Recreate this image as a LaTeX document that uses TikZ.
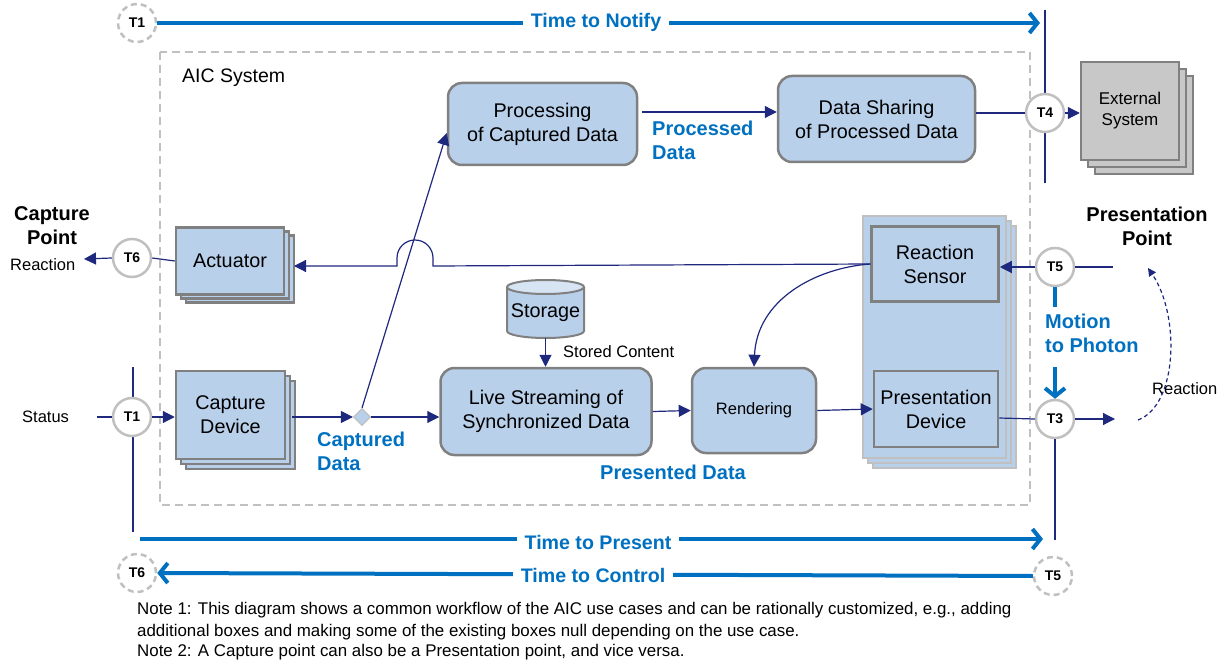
\documentclass[tikz,border=0pt]{standalone}
\usepackage{fontspec}
\setmainfont{Liberation Sans}
\usetikzlibrary{arrows.meta,shadows,shapes.geometric,calc}
\definecolor{boxblue}{RGB}{185,208,235}
\definecolor{boxgray}{RGB}{128,128,128}
\definecolor{lgray}{RGB}{192,192,192}
\definecolor{navy}{RGB}{30,40,125}
\definecolor{tblue}{RGB}{0,112,192}
\definecolor{extgray}{RGB}{200,200,200}
\definecolor{toptop}{RGB}{215,228,243}
\newcommand\fsz[2]{\fontsize{#1}{#2}\selectfont}
\begin{document}
\begin{tikzpicture}[x=1pt,y=-1pt,
 every node/.style={inner sep=0pt},
 rbox/.style={draw=boxgray, line width=2.5pt, fill=boxblue, rounded corners=14pt, align=center, font=\fsz{19.8}{24}},
 sbox/.style={draw=boxgray, line width=2.5pt, fill=boxblue, align=center, font=\fsz{19.8}{24}},
 tc/.style={circle, draw=lgray, line width=2.5pt, fill=white, minimum size=38pt, font=\bfseries\fsz{14}{14}},
 tcd/.style={tc, dash pattern=on 6pt off 4pt},
 ln/.style={draw=navy, line width=1.2pt},
 arr/.style={ln, -{Triangle[length=12pt,width=12pt]}},
 tarr/.style={draw=tblue, line width=4pt, -{Straight Barb[length=8pt,width=20pt]}},
 tline/.style={draw=tblue, line width=4pt},
 blab/.style={text=tblue, font=\bfseries\fsz{20}{24}, align=left},
 tlab/.style={text=tblue, font=\bfseries\fsz{19.6}{24}, fill=white, inner xsep=8pt, inner ysep=2pt},
 plain/.style={font=\fsz{16.5}{20}},
]
\useasboundingbox (0,0) rectangle (1225,660);

% AIC system frame
\draw[lgray, line width=2.5pt, dash pattern=on 8pt off 5pt] (160,52) rectangle (1030,505);
\node[anchor=west, font=\fsz{19.5}{24}] (aic) at (182,78) {AIC System};

% vertical guide lines
\draw[ln] (1045,10) -- (1045,183);
\draw[ln] (133,367) -- (133,532);

% top time line
\node[tcd] (t1top) at (137,23) {T1};
\draw[tarr] (t1top.east) -- (1040,23);
\node[tlab] (tnotify) at (596,22) {Time to Notify};

% boxes
\node[rbox, minimum width=189pt, minimum height=82pt] (proc) at (542.5,124) {Processing\\of Captured Data};
\node[rbox, minimum width=197pt, minimum height=86pt] (share) at (876.5,119) {Data Sharing\\of Processed Data};
\node[draw=boxgray, line width=2.5pt, fill=extgray, minimum width=98pt, minimum height=98pt, align=center,
      font=\fsz{17}{21}, double copy shadow={shadow xshift=7pt, shadow yshift=-7pt}] (ext) at (1130,111) {External\\System};
\node[sbox, minimum width=108pt, minimum height=67pt, double copy shadow={shadow xshift=5pt, shadow yshift=-4pt}] (act) at (230,261) {Actuator};
\node[sbox, minimum width=109pt, minimum height=88pt, double copy shadow={shadow xshift=5pt, shadow yshift=-5pt}] (capdev) at (230.5,415) {Capture\\Device};

% storage cylinder
\node[minimum width=77pt, minimum height=57pt] (storage) at (545.5,309) {};
\fill[boxblue] (507,287) -- (507,331) arc[start angle=180,end angle=0,x radius=38.5,y radius=7] -- (584,287) -- cycle;
\draw[boxgray, line width=2pt] (507,287) -- (507,331) arc[start angle=180,end angle=0,x radius=38.5,y radius=7] -- (584,287);
\draw[boxgray, line width=2pt, fill=toptop] (545.5,287) ellipse [x radius=38.5, y radius=7];
\node[font=\fsz{19.8}{24}] (stlab) at (545.5,313) {Storage};

\node[rbox, minimum width=211pt, minimum height=87pt] (live) at (546,411.5) {Live Streaming of\\Synchronized Data};
\node[rbox, minimum width=124pt, minimum height=85pt, font=\fsz{16.5}{21}] (render) at (754,410.5) {Rendering};

% presentation panel
\node[draw=lgray, line width=2.5pt, fill=boxblue, minimum width=143pt, minimum height=242pt,
      double copy shadow={shadow xshift=5pt, shadow yshift=-5pt}] (panel) at (934.5,337) {};
\node[sbox, minimum width=127pt, minimum height=75pt] (rsensor) at (935,264) {Reaction\\Sensor};
\node[sbox, minimum width=124pt, minimum height=76pt] (pdev) at (936,409) {Presentation\\Device};

% circles
\node[tc] (t4) at (1045,113) {T4};
\node[tc] (t6) at (132,258) {T6};
\node[tc] (t1) at (132,417) {T1};
\node[tc] (t5) at (1055,267) {T5};
\node[tc] (t3) at (1055,419) {T3};
\node[diamond, draw=lgray, line width=1.2pt, fill=boxblue, minimum size=17pt] (dia) at (362,417) {};

% labels
\node[font=\bfseries\fsz{20}{24}, align=center] (cpoint) at (52,226) {Capture\\Point};
\node[font=\bfseries\fsz{20}{24}, align=center] (ppoint) at (1147,226) {Presentation\\Point};
\node[plain, anchor=west] (reactl) at (10,265) {Reaction};
\node[plain, anchor=west] (status) at (22,417) {Status};
\node[plain, anchor=west] (reactr) at (1152,389) {Reaction};
\node[font=\fsz{16.5}{20}, anchor=west] (stored) at (563,352) {Stored Content};
\node[blab, anchor=north west] (capd) at (317,432) {Captured\\Data};
\node[blab, anchor=north west] (procd) at (652,121) {Processed\\Data};
\node[blab] (presd) at (673,472) {Presented Data};
\node[blab, anchor=north west] (mtp) at (1045,314) {Motion\\to Photon};

% connectors
\draw[arr] ($(proc.east)+(4,-12)$) -- ($(share.west)+(0,-7)$);
\draw[ln] (share.east |- t4) -- (t4.west);
\draw[arr] (t4.east) -- (ext.west |- t4);
\draw[ln] (act.west) -- (t6.east);
\draw[arr] (t6.west) -- (84,259);
\draw[arr] (rsensor.west) -- (433,266) -- (433,258) arc[start angle=0,end angle=-180,radius=18] -- (397,266) -- (294,266);
\draw[arr] (rsensor.west) .. controls (815,268) and (757,300) .. (render.north);
\draw[ln] (97,417) -- (t1.west);
\draw[arr] (t1.east) -- (capdev.west |- t1);
\draw[arr] ($(capdev.east |- dia)+(6,0)$) -- (dia.west);
\draw[arr] (dia.north) -- ($(proc.west)+(0,9)$);
\draw[arr] (dia.east) -- (live.west |- dia);
\draw[arr] (storage.south) -- (live.north -| storage.south);
\draw[arr] (live.east) -- (render.west);
\draw[arr] (render.east) -- (pdev.west);
\draw[ln] ($(pdev.east)+(0,9)$) -- (t3.west);
\draw[arr] (t3.east) -- (1115,419);
\draw[ln] (1113,267) -- (t5.east);
\draw[arr] (t5.west) -- (rsensor.east |- t5);
\draw[ln] (t3.south) -- (t3.south |- 0,540);
\draw[ln, dash pattern=on 4pt off 3pt, -{Triangle[length=8pt,width=8pt]}] (1138,420) .. controls (1178,405) and (1180,315) .. (1148,268);

% motion to photon
\draw[tline] (t5.south |- 0,287) -- (t5.south |- 0,307);
\draw[tarr] (t5.south |- 0,367) -- (t3.north);

% bottom time lines
\draw[tarr] (140,539) -- (1043,539);
\node[tlab] (tpresent) at (598,542) {Time to Present};
\node[tcd] (t6b) at (137,573) {T6};
\node[tcd] (t5b) at (1053,576) {T5};
\draw[tarr] (t5b.west) -- (t6b.east);
\node[tlab] (tcontrol) at (593,575) {Time to Control};

% notes
\node[font=\fsz{16.9}{20}, anchor=base west] (n1) at (137,614) {Note 1: This diagram shows a common workflow of the AIC use cases and can be rationally customized, e.g., adding};
\node[font=\fsz{16.9}{20}, anchor=base west] (n2) at (137,636) {additional boxes and making some of the existing boxes null depending on the use case.};
\node[font=\fsz{16.9}{20}, anchor=base west] (n3) at (137,656) {Note 2: A Capture point can also be a Presentation point, and vice versa.};
\end{tikzpicture}
\end{document}
